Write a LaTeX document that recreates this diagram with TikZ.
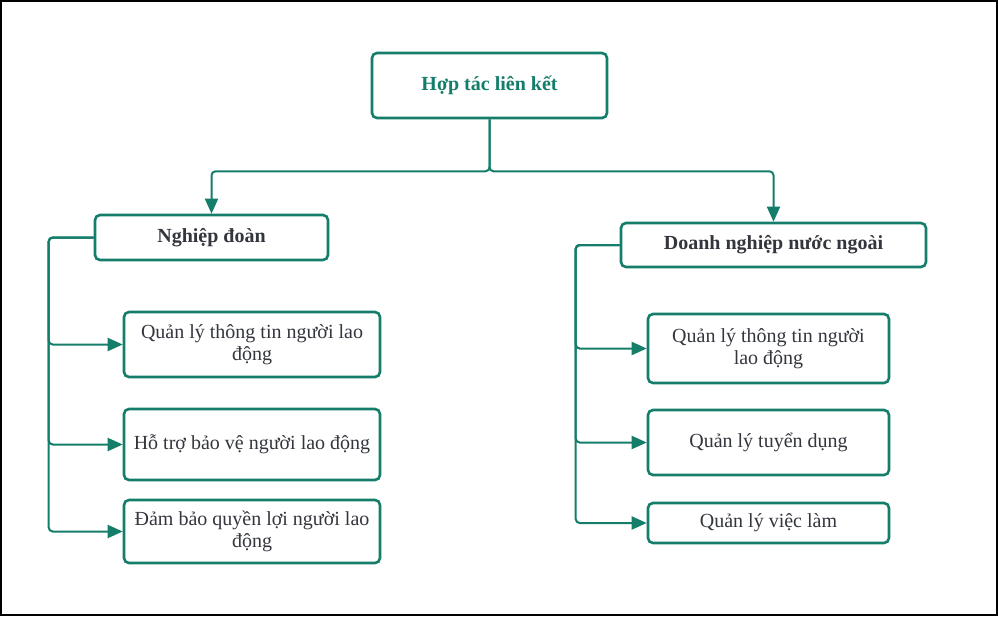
\documentclass[tikz,border=0pt]{standalone}
\usepackage{fontspec}
\setmainfont{Liberation Serif}
\usetikzlibrary{arrows.meta, positioning, calc}
\definecolor{teal}{RGB}{20, 126, 106}
\definecolor{textgray}{RGB}{52, 54, 62}
\tikzset{
  font=\fontsize{20}{22}\selectfont,
  baseblock/.style={
    rectangle, rounded corners=5pt, line width=2.6pt, draw=teal, fill=white,
    align=center, text=textgray, inner sep=0pt
  },
  rootblock/.style={baseblock, minimum width=235pt, minimum height=65pt,
    text=teal, font=\fontsize{20}{23}\selectfont\bfseries},
  groupblock/.style={baseblock, minimum height=45pt,
    font=\fontsize{20}{23}\selectfont\bfseries},
  leafblock/.style={baseblock, minimum width=256pt},
  flowline/.style={
    draw=teal, line width=2pt, rounded corners=4pt,
    -{Triangle[length=15pt, width=13pt]}
  }
}
\begin{document}
\begin{tikzpicture}[x=1pt, y=-1pt]
  \useasboundingbox (0,0) rectangle (998,616);
  \draw[line width=2pt, black] (1,1) rectangle (997,615);

  % Root
  \node[rootblock] (root) at (489.5,85.5) {Hợp tác liên kết};

  % Groups
  \node[groupblock, minimum width=233pt] (union) at (211.5,237.5) {Nghiệp đoàn};
  \node[groupblock, minimum width=305pt, minimum height=44pt] (firm) at (773.5,245) {Doanh nghiệp nước ngoài};

  % Union tasks
  \node[leafblock, minimum height=65pt] (u_info) at (252,344.5) {Quản lý thông tin người lao\\động};
  \node[leafblock, minimum height=71pt] (u_help) at (252,444.5) {Hỗ trợ bảo vệ người lao động};
  \node[leafblock, minimum height=63pt] (u_rights) at (252,531.5) {Đảm bảo quyền lợi người lao\\động};

  % Firm tasks
  \node[leafblock, minimum width=241pt, minimum height=69pt] (f_info) at (768.5,348.5) {Quản lý thông tin người\\lao động};
  \node[leafblock, minimum width=241pt, minimum height=65pt] (f_hire) at (768.5,442.5) {Quản lý tuyển dụng};
  \node[leafblock, minimum width=241pt, minimum height=40pt] (f_jobs) at (768.5,523) {Quản lý việc làm};

  % Connections
  \coordinate (split) at ($(root.south)+(0,52)$);
  \draw[flowline] (root.south) -- (split) -| (union.north);
  \draw[flowline] (root.south) -- (split) -| (firm.north);

  \draw[flowline] (union.west) -- ++(-45,0) |- (u_info.west);
  \draw[flowline] (union.west) -- ++(-45,0) |- (u_help.west);
  \draw[flowline] (union.west) -- ++(-45,0) |- (u_rights.west);

  \draw[flowline] (firm.west) -- ++(-44,0) |- (f_info.west);
  \draw[flowline] (firm.west) -- ++(-44,0) |- (f_hire.west);
  \draw[flowline] (firm.west) -- ++(-44,0) |- (f_jobs.west);

\end{tikzpicture}
\end{document}
